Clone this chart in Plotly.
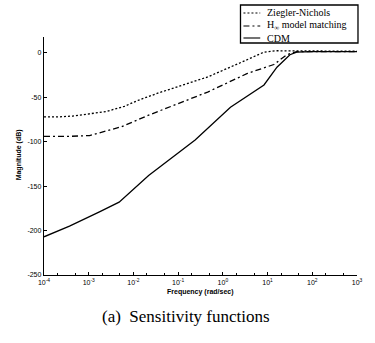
import plotly.graph_objects as go

# --- data (log10 of frequency, magnitude in dB) ---
zn_logw = [-4, -3.7, -3.36, -3.0, -2.61, -2.2, -1.88, -1.44, -1.0, -0.34, 0.39, 0.7, 0.92, 1.2, 1.6, 2.0, 3.0]
zn_db = [-72, -72, -71, -69, -66, -60, -53, -45, -38, -27, -11, -4, 1, 2.5, 2.5, 2, 2]

hinf_logw = [-4, -3.5, -2.98, -2.6, -2.26, -1.66, -1.3, -0.34, 0.55, 1.14, 1.43, 1.65, 2.0, 3.0]
hinf_db = [-94, -94, -93, -88, -83, -70, -63, -44, -23, -13, -2, 1.5, 1.5, 1.5]

cdm_logw = [-4, -3.43, -2.76, -2.32, -1.66, -1.15, -0.62, 0.17, 0.92, 1.21, 1.5, 1.65, 2.0, 3.0]
cdm_db = [-207, -195, -179, -168, -138, -118, -98, -61, -36, -16, -2, 1, 1.5, 1.5]

x_tick_exp = [-4, -3, -2, -1, 0, 1, 2, 3]
y_tick_vals = [0, -50, -100, -150, -200, -250]
y_tick_text = ["0", "-50", "-100", "-150", "-200", "-250"]

legend_labels = ["Ziegler-Nichols", "H<sub>∞</sub> model matching", "CDM"]
legend_dashes = ["2px,2px", "6px,3px,2px,3px", "solid"]

caption = "(a)  Sensitivity functions"

fig = go.Figure()
series = [(zn_logw, zn_db), (hinf_logw, hinf_db), (cdm_logw, cdm_db)]
for (lw, db), dash, name in zip(series, legend_dashes, legend_labels):
    fig.add_trace(go.Scatter(
        x=[10 ** v for v in lw], y=db, mode="lines", name=name,
        line=dict(color="black", width=1.3, dash=dash),
        showlegend=False,
    ))

fig.update_layout(
    width=375, height=343,
    margin=dict(l=44, r=14, t=37, b=68),
    paper_bgcolor="white", plot_bgcolor="white",
    font=dict(family="Liberation Sans, Arial", size=7, color="black"),
)
fig.update_xaxes(
    type="log", range=[-4, 3],
    tickvals=[10 ** e for e in x_tick_exp],
    ticktext=[f"10<sup>{e}</sup>" for e in x_tick_exp],
    showgrid=False, zeroline=False,
    showline=True, linecolor="black", linewidth=1.3, mirror=False,
    ticks="inside", ticklen=3, tickcolor="black",
    minor=dict(ticks="inside", ticklen=2, tickcolor="black", showgrid=False),
    tickfont=dict(size=7),
)
fig.update_yaxes(
    range=[-250, 18],
    tickvals=y_tick_vals, ticktext=y_tick_text,
    showgrid=False, zeroline=False,
    showline=True, linecolor="black", linewidth=1.4, mirror=False,
    ticks="inside", ticklen=3, tickcolor="black",
    tickfont=dict(size=7),
)

# axis titles
fig.add_annotation(text="<b>Frequency (rad/sec)</b>", xref="paper", yref="paper",
                   x=0.5, y=-0.072, showarrow=False, font=dict(size=7, family="Liberation Sans"),
                   yanchor="middle")
fig.add_annotation(text="<b>Magnitude (dB)</b>", xref="paper", yref="paper",
                   x=-0.098, y=0.504, showarrow=False, textangle=-90,
                   font=dict(size=7, family="Liberation Sans"))
# caption
fig.add_annotation(text=caption, xref="paper", yref="paper",
                   x=0.455, y=-0.176, showarrow=False, yanchor="middle",
                   font=dict(size=17, family="Liberation Serif"))

# legend box (manual)
px_w, px_h = 317.0, 238.0
def px(x):
    return (x - 44) / px_w
def py(y):
    return (275 - y) / px_h

fig.add_shape(type="rect", xref="paper", yref="paper",
              x0=px(243), x1=px(362), y0=py(43), y1=py(5),
              line=dict(color="black", width=1.3), fillcolor="white", layer="above")
legend_rows = [13, 26, 38]
for row, name, dash in zip(legend_rows, legend_labels, legend_dashes):
    fig.add_shape(type="line", xref="paper", yref="paper",
                  x0=px(246), x1=px(263), y0=py(row), y1=py(row),
                  line=dict(color="black", width=1.1, dash=dash), layer="above")
    fig.add_annotation(text=name, xref="paper", yref="paper",
                       x=px(268), y=py(row), xanchor="left", yanchor="middle",
                       showarrow=False, font=dict(size=10, family="Liberation Serif"))

fig.write_html("out.html")
